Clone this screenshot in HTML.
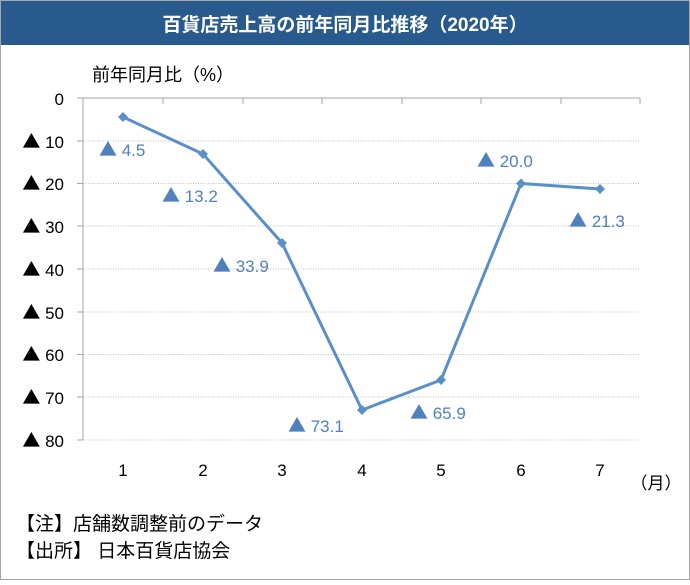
<!DOCTYPE html>
<html><head><meta charset="utf-8"><style>
body{margin:0;background:#fff}
svg text{font-family:"Liberation Sans","Noto Sans CJK JP",sans-serif}
.t{font-family:"Noto Sans CJK JP",sans-serif;font-size:18px}
</style></head><body>
<svg width="690" height="580" xmlns="http://www.w3.org/2000/svg">
<rect x="0.5" y="0.5" width="689" height="579" fill="#fff" stroke="#a6a6a6"/>
<rect x="1" y="1" width="688" height="44" fill="#285a8e"/>
<text x="345" y="31" fill="#fff" font-size="19" font-weight="bold" text-anchor="middle">百貨店売上高の前年同月比推移（2020年）</text>
<text x="92" y="81" font-size="18" fill="#000">前年同月比（%）</text>
<g stroke="#bfbfbf" stroke-dasharray="1,1.5" stroke-width="1">
<line x1="83" y1="141" x2="640" y2="141"/><line x1="83" y1="183.5" x2="640" y2="183.5"/>
<line x1="83" y1="226" x2="640" y2="226"/><line x1="83" y1="269" x2="640" y2="269"/>
<line x1="83" y1="312" x2="640" y2="312"/><line x1="83" y1="354.5" x2="640" y2="354.5"/>
<line x1="83" y1="397" x2="640" y2="397"/><line x1="83" y1="440" x2="640" y2="440"/>
</g>
<g stroke="#a6a6a6" stroke-width="1">
<line x1="83" y1="98" x2="640" y2="98"/><line x1="83" y1="98" x2="83" y2="440"/>
<line x1="77" y1="98" x2="83" y2="98"/><line x1="77" y1="141" x2="83" y2="141"/><line x1="77" y1="183.5" x2="83" y2="183.5"/><line x1="77" y1="226" x2="83" y2="226"/><line x1="77" y1="269" x2="83" y2="269"/><line x1="77" y1="312" x2="83" y2="312"/><line x1="77" y1="354.5" x2="83" y2="354.5"/><line x1="77" y1="397" x2="83" y2="397"/><line x1="77" y1="440" x2="83" y2="440"/>
<line x1="163" y1="98" x2="163" y2="104"/><line x1="243" y1="98" x2="243" y2="104"/><line x1="322" y1="98" x2="322" y2="104"/><line x1="402" y1="98" x2="402" y2="104"/><line x1="481" y1="98" x2="481" y2="104"/><line x1="561" y1="98" x2="561" y2="104"/><line x1="640" y1="98" x2="640" y2="104"/>
</g>
<g font-size="17" text-anchor="end" fill="#000">
<text x="64" y="105">0</text><text x="64" y="148"><tspan class="t">▲</tspan> 10</text><text x="64" y="190"><tspan class="t">▲</tspan> 20</text><text x="64" y="233"><tspan class="t">▲</tspan> 30</text><text x="64" y="276"><tspan class="t">▲</tspan> 40</text><text x="64" y="319"><tspan class="t">▲</tspan> 50</text><text x="64" y="361"><tspan class="t">▲</tspan> 60</text><text x="64" y="404"><tspan class="t">▲</tspan> 70</text><text x="64" y="447"><tspan class="t">▲</tspan> 80</text>
</g>
<g font-size="17" text-anchor="middle" fill="#000">
<text x="123" y="476">1</text><text x="203" y="476">2</text><text x="282" y="476">3</text><text x="362" y="476">4</text><text x="441" y="476">5</text><text x="521" y="476">6</text><text x="600" y="476">7</text>
<text x="656" y="489">（月）</text>
</g>
<polyline points="123,117 203,154 282,243 362,410 441,380 521,183.5 600,189" fill="none" stroke="#5b8fc9" stroke-width="3"/>
<g fill="#5b8fc9">
<path d="M123,112l5,5l-5,5l-5,-5z"/><path d="M203,149l5,5l-5,5l-5,-5z"/><path d="M282,238l5,5l-5,5l-5,-5z"/><path d="M362,405l5,5l-5,5l-5,-5z"/><path d="M441,375l5,5l-5,5l-5,-5z"/><path d="M521,178.5l5,5l-5,5l-5,-5z"/><path d="M600,184l5,5l-5,5l-5,-5z"/>
</g>
<g font-size="17" fill="#4f81bd">
<text x="99" y="156"><tspan class="t">▲</tspan> 4.5</text><text x="162" y="202"><tspan class="t">▲</tspan> 13.2</text><text x="213" y="272"><tspan class="t">▲</tspan> 33.9</text><text x="288" y="432"><tspan class="t">▲</tspan> 73.1</text><text x="410" y="419"><tspan class="t">▲</tspan> 65.9</text><text x="477" y="167"><tspan class="t">▲</tspan> 20.0</text><text x="569" y="227"><tspan class="t">▲</tspan> 21.3</text>
</g>
<text x="16" y="530" font-size="19" fill="#000">【注】店舗数調整前のデータ</text>
<text x="16" y="557" font-size="19" fill="#000">【出所】 日本百貨店協会</text>
</svg>
</body></html>
